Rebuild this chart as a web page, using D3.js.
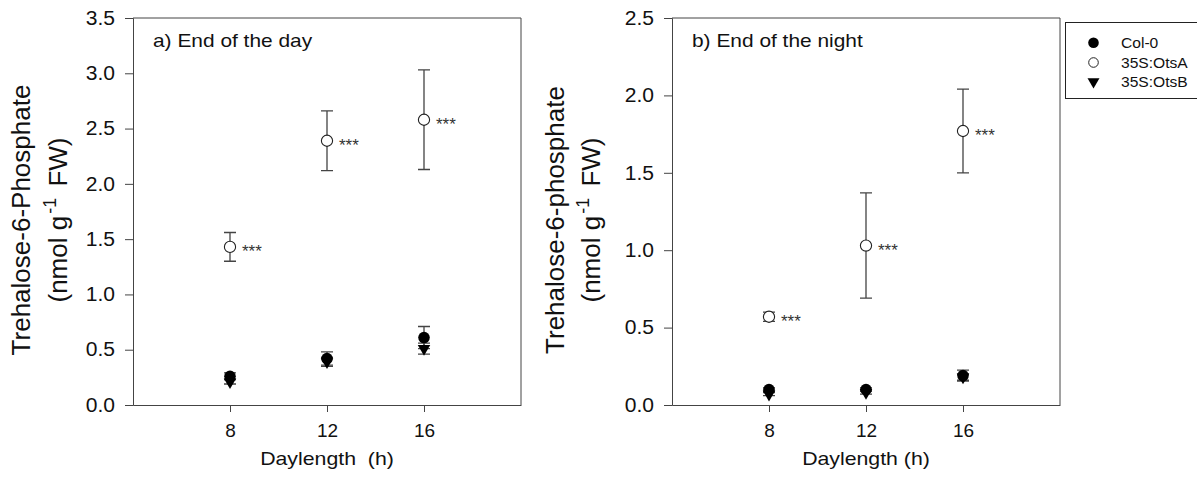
<!DOCTYPE html>
<html>
<head>
<meta charset="utf-8">
<script src="https://cdn.jsdelivr.net/npm/d3@7"></script>
<style>
  body { margin: 0; background: #fff; }
  svg { display: block; font-family: "Liberation Sans", Arial, sans-serif; }
</style>
</head>
<body>
<svg id="chart" width="1197" height="484"></svg>
<script>
// Daylength treatments (h)
const daylengths = [8, 12, 16];
const xTicks = [8, 12, 16];

// a) End of the day — T6P (nmol g-1 FW), mean and error
const dayCol0 = [0.26, 0.42, 0.61];
const dayCol0Err = [0.03, 0.06, 0.10];
const dayOtsA = [1.43, 2.39, 2.58];
const dayOtsAErr = [0.13, 0.27, 0.45];
const dayOtsB = [0.21, 0.39, 0.51];
const dayOtsBErr = [0.02, 0.04, 0.05];
const dayTicks = [0, 0.5, 1.0, 1.5, 2.0, 2.5, 3.0, 3.5];

// b) End of the night
const nightCol0 = [0.10, 0.10, 0.19];
const nightCol0Err = [0.01, 0.01, 0.035];
const nightOtsA = [0.57, 1.03, 1.77];
const nightOtsAErr = [0.03, 0.34, 0.27];
const nightOtsB = [0.07, 0.08, 0.18];
const nightOtsBErr = [0.01, 0.01, 0.02];
const nightTicks = [0, 0.5, 1.0, 1.5, 2.0, 2.5];

const seriesNames = ["Col-0", "35S:OtsA", "35S:OtsB"];
const signif = "***";

const svg = d3.select("#chart");
const axisColor = "#444";
const textColor = "#111";

// widen glyphs slightly (wide Arial-like rendering)
function widen(sel, k) {
  sel.each(function () {
    const w = this.getComputedTextLength();
    d3.select(this).attr("textLength", w * k).attr("lengthAdjust", "spacingAndGlyphs");
  });
}

function panel(opts) {
  const { left, right, top, bottom, yMax, ticks, col0, col0Err, otsA, otsAErr, otsB, otsBErr,
          title, yLabel1, yLab1X, yLab2X } = opts;
  const x = d3.scaleLinear().domain([4, 20]).range([left, right]);
  const y = d3.scaleLinear().domain([0, yMax]).range([bottom, top]);
  const g = svg.append("g");

  // frame (top and right)
  g.append("path")
    .attr("d", `M${left},${top}H${right}V${bottom}`)
    .attr("fill", "none").attr("stroke", axisColor).attr("stroke-width", 1);

  // y axis
  const yAxis = g.append("g").attr("transform", `translate(${left},0)`)
    .call(d3.axisLeft(y).tickValues(ticks).tickSize(8).tickPadding(10).tickFormat(d3.format(".1f")));
  yAxis.selectAll("path, line").attr("stroke", axisColor);
  yAxis.selectAll("text").attr("font-size", 19.5).attr("fill", textColor)
    .attr("font-family", "Liberation Sans, Arial, sans-serif");
  widen(yAxis.selectAll("text"), 1.08);

  // x axis
  const xAxis = g.append("g").attr("transform", `translate(0,${bottom})`)
    .call(d3.axisBottom(x).tickValues(xTicks).tickSize(7).tickSizeOuter(0).tickPadding(12));
  xAxis.selectAll("path, line").attr("stroke", axisColor);
  xAxis.selectAll("text").attr("font-size", 19).attr("fill", textColor)
    .attr("font-family", "Liberation Sans, Arial, sans-serif");

  // x axis title
  const xt = g.append("text").attr("x", (left + right) / 2).attr("y", bottom + 60)
    .attr("text-anchor", "middle").attr("font-size", 19).attr("fill", textColor)
    .attr("xml:space", "preserve").text(opts.xLabel);
  widen(xt, 1.12);

  // y axis title, two lines
  const yc = 220;
  g.append("text").attr("transform", `translate(${yLab1X},${yc}) rotate(-90)`)
    .attr("text-anchor", "middle").attr("font-size", 26).attr("fill", textColor).text(yLabel1);
  const t2 = g.append("text").attr("transform", `translate(${yLab2X},${yc}) rotate(-90)`)
    .attr("text-anchor", "middle").attr("font-size", 26).attr("fill", textColor)
    .attr("xml:space", "preserve");
  t2.append("tspan").text("(nmol g");
  t2.append("tspan").attr("dy", -11).attr("dx", 2).attr("font-size", 18).text("-1");
  t2.append("tspan").attr("dy", 11).attr("dx", 4).text(" FW)");

  // panel title
  const pt = g.append("text").attr("x", left + 20).attr("y", top + 29)
    .attr("font-size", 19).attr("fill", textColor).text(title);
  widen(pt, 1.1);

  const capW = 6;
  function errorBars(vals, errs) {
    daylengths.forEach((d, i) => {
      const cx = x(d), y1 = y(vals[i] + errs[i]), y0 = y(vals[i] - errs[i]);
      g.append("path")
        .attr("d", `M${cx},${y0}V${y1}M${cx - capW},${y1}H${cx + capW}M${cx - capW},${y0}H${cx + capW}`)
        .attr("stroke", axisColor).attr("stroke-width", 1.3).attr("fill", "none");
    });
  }

  errorBars(otsB, otsBErr);
  errorBars(col0, col0Err);
  errorBars(otsA, otsAErr);

  const tri = d3.symbol().type(d3.symbolTriangle).size(68);
  // 35S:OtsB (inverted triangles)
  g.selectAll(".otsb").data(daylengths).join("path")
    .attr("d", tri)
    .attr("transform", (d, i) => `translate(${x(d)},${y(otsB[i])}) rotate(180)`)
    .attr("fill", "#000");
  // Col-0 (filled circles)
  g.selectAll(".col0").data(daylengths).join("circle")
    .attr("cx", d => x(d)).attr("cy", (d, i) => y(col0[i])).attr("r", 5.8)
    .attr("fill", "#000");
  // 35S:OtsA (open circles)
  g.selectAll(".otsa").data(daylengths).join("circle")
    .attr("cx", d => x(d)).attr("cy", (d, i) => y(otsA[i])).attr("r", 5.6)
    .attr("fill", "#fff").attr("stroke", "#222").attr("stroke-width", 1.1);
  // significance markers
  g.selectAll(".sig").data(daylengths).join("text")
    .attr("x", d => x(d) + 12).attr("y", (d, i) => y(otsA[i]) + 10)
    .attr("font-size", 17).attr("fill", "#333").text(signif);
}

panel({
  left: 133, right: 521, top: 18, bottom: 405, yMax: 3.5, ticks: dayTicks,
  col0: dayCol0, col0Err: dayCol0Err, otsA: dayOtsA, otsAErr: dayOtsAErr,
  otsB: dayOtsB, otsBErr: dayOtsBErr,
  title: "a) End of the day", xLabel: "Daylength  (h)",
  yLabel1: "Trehalose-6-Phosphate", yLab1X: 30, yLab2X: 67
});

panel({
  left: 672, right: 1060, top: 18, bottom: 405, yMax: 2.5, ticks: nightTicks,
  col0: nightCol0, col0Err: nightCol0Err, otsA: nightOtsA, otsAErr: nightOtsAErr,
  otsB: nightOtsB, otsBErr: nightOtsBErr,
  title: "b) End of the night", xLabel: "Daylength (h)",
  yLabel1: "Trehalose-6-phosphate", yLab1X: 564, yLab2X: 600
});

// legend
const lg = svg.append("g");
lg.append("rect").attr("x", 1065.5).attr("y", 22.5).attr("width", 140).attr("height", 76)
  .attr("fill", "#fff").attr("stroke", "#222").attr("stroke-width", 1);
const legY = [42.7, 62.5, 81.7];
seriesNames.forEach((name, i) => {
  const cy = legY[i], cx = 1093.5;
  if (i === 0) lg.append("circle").attr("cx", cx).attr("cy", cy).attr("r", 5.3).attr("fill", "#000");
  if (i === 1) lg.append("circle").attr("cx", cx).attr("cy", cy).attr("r", 4.8)
    .attr("fill", "#fff").attr("stroke", "#222").attr("stroke-width", 1);
  if (i === 2) lg.append("path").attr("d", d3.symbol().type(d3.symbolTriangle).size(62))
    .attr("transform", `translate(${cx},${cy}) rotate(180)`).attr("fill", "#000");
  const t = lg.append("text").attr("x", 1121).attr("y", cy + 5.5).attr("font-size", 15)
    .attr("fill", textColor).text(name);
  widen(t, 1.04);
});
</script>
</body>
</html>
